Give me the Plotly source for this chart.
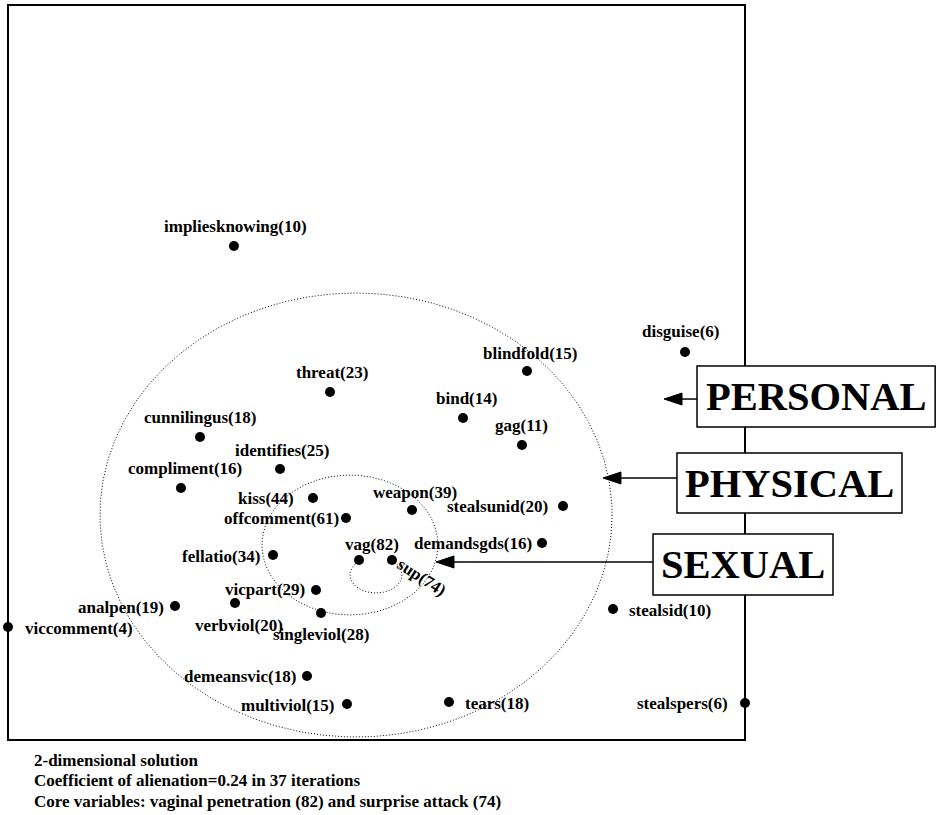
import numpy as np
import plotly.graph_objects as go

# ---------------- data (MDS coordinates, frame = 0..100 on both axes) ----------------
names = ["impliesknowing(10)", "disguise(6)", "blindfold(15)", "threat(23)", "bind(14)",
         "gag(11)", "cunnilingus(18)", "identifies(25)", "compliment(16)", "kiss(44)",
         "weapon(39)", "offcomment(61)", "stealsunid(20)", "demandsgds(16)", "fellatio(34)",
         "vag(82)", "sup(74)", "vicpart(29)", "analpen(19)", "verbviol(20)",
         "singleviol(28)", "viccomment(4)", "stealsid(10)", "demeansvic(18)", "multiviol(15)",
         "tears(18)", "stealspers(6)"]
x_vals = [30.66, 91.86, 70.42, 43.69, 61.74,
          69.74, 26.05, 36.91, 23.47, 41.38,
          54.82, 45.86, 75.31, 72.46, 35.96,
          47.63, 52.10, 41.79, 22.66, 30.80,
          42.47, 0.00, 82.09, 40.57, 46.00,
          59.84, 100.00]
y_vals = [67.21, 52.79, 50.20, 47.35, 43.81,
          40.14, 41.22, 36.87, 34.29, 32.93,
          31.29, 30.20, 31.84, 26.80, 25.17,
          24.49, 24.49, 20.41, 18.23, 18.64,
          17.28, 15.37, 17.82, 8.71, 4.90,
          5.17, 5.03]

facet_names = ["PERSONAL", "PHYSICAL", "SEXUAL"]
footer_lines = ["2-dimensional solution",
                "Coefficient of alienation=0.24 in 37 iterations",
                "Core variables: vaginal penetration (82) and surprise attack (74)"]

# ---------------- layout helpers ----------------
PX_X, PX_Y = 7.37, 7.35          # pixels per unit
W, H = 937, 815
ORIGIN_PX = (8, 740)
x_range = [-ORIGIN_PX[0] / PX_X, (W - ORIGIN_PX[0]) / PX_X]
y_range = [-(H - ORIGIN_PX[1]) / PX_Y, ORIGIN_PX[1] / PX_Y]

# label placement: anchor, dx, dy (screen pixels, dy down positive), angle
label_place = {
    "impliesknowing(10)": ("center", 2, -20, 0),
    "disguise(6)": ("center", -5, -20, 0),
    "blindfold(15)": ("center", 3, -18, 0),
    "threat(23)": ("center", 2, -19, 0),
    "bind(14)": ("center", 3, -20, 0),
    "gag(11)": ("center", 0, -19, 0),
    "cunnilingus(18)": ("center", 0, -20, 0),
    "identifies(25)": ("center", 2, -19, 0),
    "compliment(16)": ("center", 4, -19, 0),
    "kiss(44)": ("right", -17, 1, 0),
    "weapon(39)": ("center", 3, -18, 0),
    "offcomment(61)": ("right", -5, 0, 0),
    "stealsunid(20)": ("right", -13, 1, 0),
    "demandsgds(16)": ("right", -8, 0, 0),
    "fellatio(34)": ("right", -11, 1, 0),
    "vag(82)": ("center", 13, -16, 0),
    "sup(74)": ("center", 30, 17, 33),
    "vicpart(29)": ("right", -9, 0, 0),
    "analpen(19)": ("right", -9, 1, 0),
    "verbviol(20)": ("center", 4, 22, 0),
    "singleviol(28)": ("center", 0, 22, 0),
    "viccomment(4)": ("left", 15, 1, 0),
    "stealsid(10)": ("left", 14, 1, 0),
    "demeansvic(18)": ("right", -9, 1, 0),
    "multiviol(15)": ("right", -10, 2, 0),
    "tears(18)": ("left", 14, 1, 0),
    "stealspers(6)": ("right", -15, 0, 0),
}

FONT = "Liberation Serif, Times New Roman, serif"

fig = go.Figure()

# dotted regions (ellipses)
def ellipse(cx, cy, rx, ry, t0=0, t1=360):
    t = np.radians(np.linspace(t0, t1, 400))
    return cx + rx * np.cos(t), cy - ry * np.sin(t)

for (cx, cy, rx, ry, t0, t1) in [(47.22, 30.61, 34.74, 30.20, 0, 360),
                                 (46.40, 26.53, 11.94, 9.52, 0, 360),
                                 (49.93, 22.45, 3.53, 2.45, -52, 229)]:
    ex, ey = ellipse(cx, cy, rx, ry, t0, t1)
    fig.add_trace(go.Scatter(x=ex, y=ey, mode="lines",
                             line=dict(color="black", width=1, dash="1px,2px"),
                             hoverinfo="skip", showlegend=False))

fig.add_trace(go.Scatter(x=x_vals, y=y_vals, mode="markers", text=names,
                         marker=dict(color="black", size=10),
                         cliponaxis=False, showlegend=False))

annotations = []
for n, xv, yv in zip(names, x_vals, y_vals):
    anc, dx, dy, ang = label_place[n]
    annotations.append(dict(x=xv, y=yv, text=n, showarrow=False,
                            xanchor=anc, yanchor="middle", xshift=dx, yshift=-dy,
                            textangle=ang,
                            font=dict(family=FONT, size=17, color="black", weight="bold")))

shapes = [dict(type="rect", x0=0, x1=100, y0=0, y1=100,
               line=dict(color="black", width=2), fillcolor="rgba(0,0,0,0)")]

# facet boxes: (x0, x1, y0, y1), arrow y, arrow tip x
boxes = [(93.49, 125.80, 42.59, 50.88, 46.39, 89.01),
         (90.77, 121.30, 30.88, 39.05, 35.65, 80.73),
         (87.52, 111.94, 19.73, 28.03, 24.22, 58.07)]
head_len, head_half = 18 / PX_X, 6 / PX_Y
for name, (bx0, bx1, by0, by1, ay, tip) in zip(facet_names, boxes):
    shapes.append(dict(type="rect", x0=bx0, x1=bx1, y0=by0, y1=by1,
                       line=dict(color="black", width=1.5), fillcolor="white"))
    shapes.append(dict(type="line", x0=bx0, x1=tip + head_len, y0=ay, y1=ay,
                       line=dict(color="black", width=1.5)))
    shapes.append(dict(type="path",
                       path=f"M {tip},{ay} L {tip + head_len},{ay + head_half} "
                            f"L {tip + head_len},{ay - head_half} Z",
                       fillcolor="black", line=dict(color="black", width=1)))
    annotations.append(dict(x=(bx0 + bx1) / 2, y=(by0 + by1) / 2, text=name,
                            showarrow=False, xanchor="center", yanchor="middle",
                            font=dict(family=FONT, size=40.5, color="black", weight="bold")))

for i, line in enumerate(footer_lines):
    annotations.append(dict(x=24 / PX_X, y=-(20 + 20.5 * i) / PX_Y, text=line,
                            showarrow=False, xanchor="left", yanchor="middle",
                            font=dict(family=FONT, size=17, color="black", weight="bold")))

fig.update_layout(
    width=W, height=H, autosize=False,
    margin=dict(l=0, r=0, t=0, b=0, pad=0),
    paper_bgcolor="white", plot_bgcolor="white",
    xaxis=dict(range=x_range, visible=False, fixedrange=True),
    yaxis=dict(range=y_range, visible=False, fixedrange=True),
    shapes=shapes, annotations=annotations, showlegend=False,
)

fig.write_html("out.html", config={"displayModeBar": False},
               post_script="document.body.style.margin='0';document.body.style.overflow='hidden';")
